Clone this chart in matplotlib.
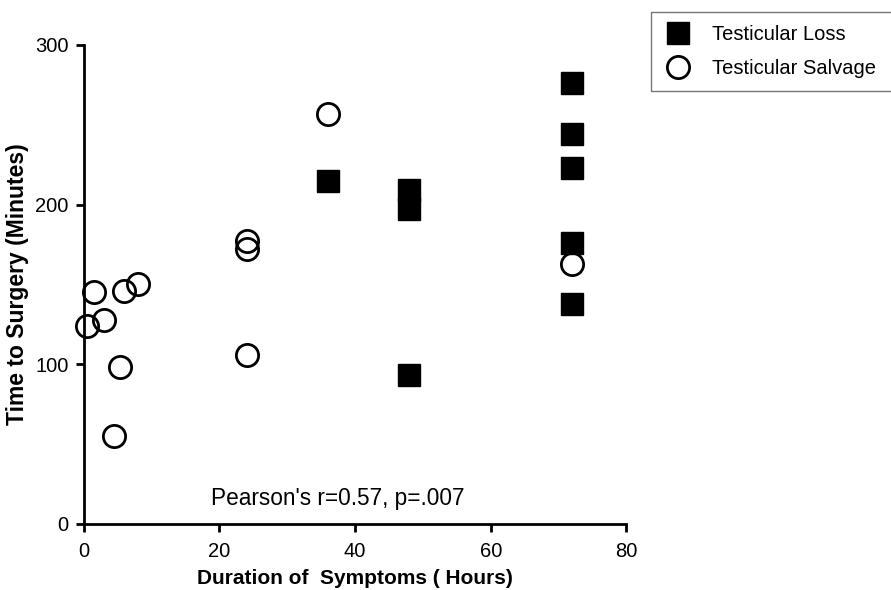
import matplotlib
matplotlib.use("Agg")
import matplotlib.pyplot as plt

plt.rcParams['font.family'] = ['Liberation Sans', 'DejaVu Sans']

# Testicular loss (filled squares)
loss_hours = [36, 48, 48, 48, 72, 72, 72, 72, 72]
loss_minutes = [215, 209, 197, 93, 276, 244, 223, 176, 138]

# Testicular salvage (open circles)
salvage_hours = [0.5, 1.5, 3, 6, 8, 5.3, 4.4, 24, 24, 24, 36, 72]
salvage_minutes = [124, 145, 128, 146, 150, 98, 55, 177, 172, 106, 257, 163]

fig = plt.figure(figsize=(8.91, 5.9), dpi=100)
ax = fig.add_axes([0.094, 0.112, 0.609, 0.812])

ax.plot(loss_hours, loss_minutes, linestyle='none', marker='s', markersize=16,
        color='black', label='Testicular Loss', clip_on=False, zorder=3)
ax.plot(salvage_hours, salvage_minutes, linestyle='none', marker='o', markersize=16,
        markerfacecolor='none', markeredgecolor='black', markeredgewidth=2,
        label='Testicular Salvage', clip_on=False, zorder=4)

ax.set_xlim(0, 80)
ax.set_ylim(0, 300)
ax.set_xticks([0, 20, 40, 60, 80])
ax.set_yticks([0, 100, 200, 300])
for s in ['top', 'right']:
    ax.spines[s].set_visible(False)
for s in ['left', 'bottom']:
    ax.spines[s].set_linewidth(2)
ax.tick_params(width=2, length=6, labelsize=14.5, colors='black')
ax.tick_params(axis='x', pad=7)
ax.tick_params(axis='y', pad=5)
ax.set_xlabel('Duration of  Symptoms ( Hours)', fontsize=15, fontweight='bold', labelpad=6)
ax.set_ylabel('Time to Surgery (Minutes)', fontsize=16.5, fontweight='bold', labelpad=4)

ax.text(37.5, 16, "Pearson's r=0.57, p=.007", fontsize=16.3, ha='center', va='center')

leg = fig.legend(loc='upper left', bbox_to_anchor=(651 / 891, 1 - 92 / 590, 260 / 891, 80 / 590),
                 mode='expand', borderaxespad=0, fontsize=14.5,
                 frameon=True, fancybox=False, edgecolor='#555555',
                 handlelength=1.4, handletextpad=1.0, borderpad=0.65, labelspacing=0.75)
leg.get_frame().set_linewidth(1)

fig.savefig('out.png', dpi=100)
